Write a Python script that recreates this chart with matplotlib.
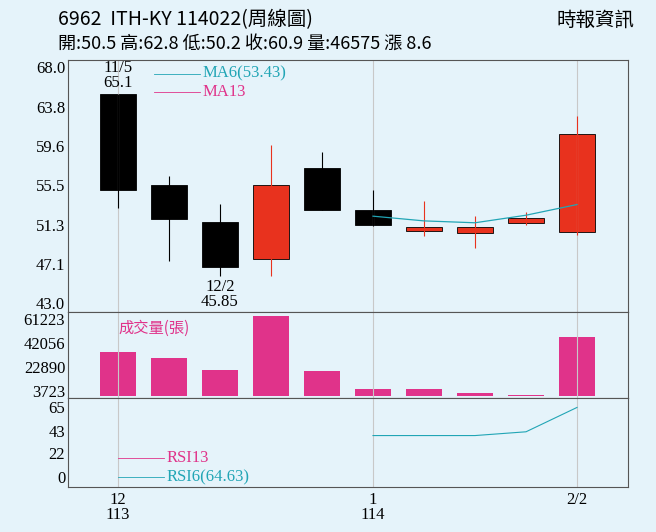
import matplotlib.pyplot as plt
import numpy as np

plt.rcParams['font.family'] = ['Noto Sans CJK TC', 'DejaVu Sans']

opens = [65.1, 55.5, 51.6, 47.7, 57.3, 52.9, 50.6, 50.4, 51.5, 50.5]
closes = [55.0, 51.9, 46.8, 55.5, 52.9, 51.3, 51.1, 51.0, 52.0, 60.9]
highs = [65.1, 56.5, 53.5, 59.7, 59.0, 55.0, 53.8, 52.2, 52.6, 62.8]
lows = [53.1, 47.5, 45.85, 45.9, 52.9, 51.2, 50.1, 48.8, 51.3, 50.2]
volumes = [34900, 30100, 20500, 64000, 19700, 5500, 5200, 1800, 700, 46575]
ma6 = [None, None, None, None, None, 52.2, 51.7, 51.5, 52.3, 53.43]
rsi6 = [None, None, None, None, None, 38.5, 38.5, 38.5, 42.0, 64.63]
price_ticks = [43.0, 47.1, 51.3, 55.5, 59.6, 63.8, 68.0]
vol_ticks = [3723, 22890, 42056, 61223]
rsi_ticks = [0, 22, 43, 65]

bg = '#e5f3fa'
red = '#e8321e'
pink = '#e0338a'
teal = '#21a5b5'

fig = plt.figure(figsize=(6.56, 5.32), dpi=100, facecolor=bg)
W, H = 656, 532
def box(x0, y0, x1, y1):
    return [x0 / W, 1 - y1 / H, (x1 - x0) / W, (y1 - y0) / H]

ax1 = fig.add_axes(box(68, 60, 628, 312))
ax2 = fig.add_axes(box(68, 312, 628, 398), sharex=ax1)
ax3 = fig.add_axes(box(68, 398, 628, 487), sharex=ax1)
x = np.arange(len(opens))

for ax in (ax1, ax2, ax3):
    ax.set_facecolor(bg)
    ax.set_xlim(-0.98, 10.0)
    for s in ax.spines.values():
        s.set_color('#555555')
    ax.tick_params(axis='y', length=0, labelsize=12, pad=2)
    ax.tick_params(axis='x', length=0)
    ax.grid(axis='x', color='#c8c8c8', lw=0.8)

# candles
for i in x:
    up = closes[i] >= opens[i]
    c = red if up else 'black'
    ax1.vlines(i, lows[i], highs[i], color=c, lw=0.8)
    lo, hi = sorted([opens[i], closes[i]])
    ax1.bar(i, max(hi - lo, 0.15), bottom=lo, width=0.7, color=c, edgecolor='black', lw=0.6)
mx = [i for i in x if ma6[i] is not None]
ax1.plot(mx, [ma6[i] for i in mx], color=teal, lw=0.9)
ax1.set_ylim(42.05, 68.74)
ax1.set_yticks(price_ticks)
ax1.set_yticklabels([f'{t:.1f}' for t in price_ticks], family='Liberation Serif')
ax1.text(0, 65.1 + 0.4, '11/5\n65.1', ha='center', va='bottom', fontsize=12, family='Liberation Serif', linespacing=0.9)
ax1.text(2, 45.85 - 0.3, '12/2\n45.85', ha='center', va='top', fontsize=12, family='Liberation Serif', linespacing=0.9)
ax1.plot([0.7, 1.6], [67.3, 67.3], color=teal, lw=0.6)
ax1.text(1.65, 67.3, 'MA6(53.43)', color=teal, va='center', fontsize=12, family='Liberation Serif')
ax1.plot([0.7, 1.6], [65.3, 65.3], color=pink, lw=0.6)
ax1.text(1.65, 65.3, 'MA13', color=pink, va='center', fontsize=12, family='Liberation Serif')

# volume
ax2.bar(x, volumes, width=0.7, color=pink)
ax2.set_ylim(-1856, 66800)
ax2.set_yticks(vol_ticks)
ax2.set_yticklabels([str(t) for t in vol_ticks], family='Liberation Serif')
ax2.text(0.0, 50000, '成交量(張)', color=pink, fontsize=11)

# rsi
rx = [i for i in x if rsi6[i] is not None]
ax3.plot(rx, [rsi6[i] for i in rx], color=teal, lw=0.8)
ax3.set_ylim(-9.3, 73.4)
ax3.set_yticks(rsi_ticks)
ax3.set_yticklabels([str(t) for t in rsi_ticks], family='Liberation Serif')
ax3.plot([0.0, 0.9], [18, 18], color=pink, lw=0.6)
ax3.text(0.95, 18, 'RSI13', color=pink, va='center', fontsize=12, family='Liberation Serif')
ax3.plot([0.0, 0.9], [0, 0], color=teal, lw=0.6)
ax3.text(0.95, 0, 'RSI6(64.63)', color=teal, va='center', fontsize=12, family='Liberation Serif')
ax3.set_xticks([0, 5, 9])
ax3.set_xticklabels(['12\n113', '1\n114', '2/2'], fontsize=12, family='Liberation Serif', linespacing=0.9)
plt.setp(ax1.get_xticklabels(), visible=False)
plt.setp(ax2.get_xticklabels(), visible=False)

fig.text(58 / W, 1 - 20 / H, '6962  ITH-KY 114022(周線圖)', fontsize=14, va='center')
fig.text(58 / W, 1 - 44 / H, '開:50.5 高:62.8 低:50.2 收:60.9 量:46575 漲 8.6', fontsize=13, va='center')
fig.text(635 / W, 1 - 20 / H, '時報資訊', fontsize=14, va='center', ha='right')

fig.savefig('out.png', dpi=100, facecolor=bg)
